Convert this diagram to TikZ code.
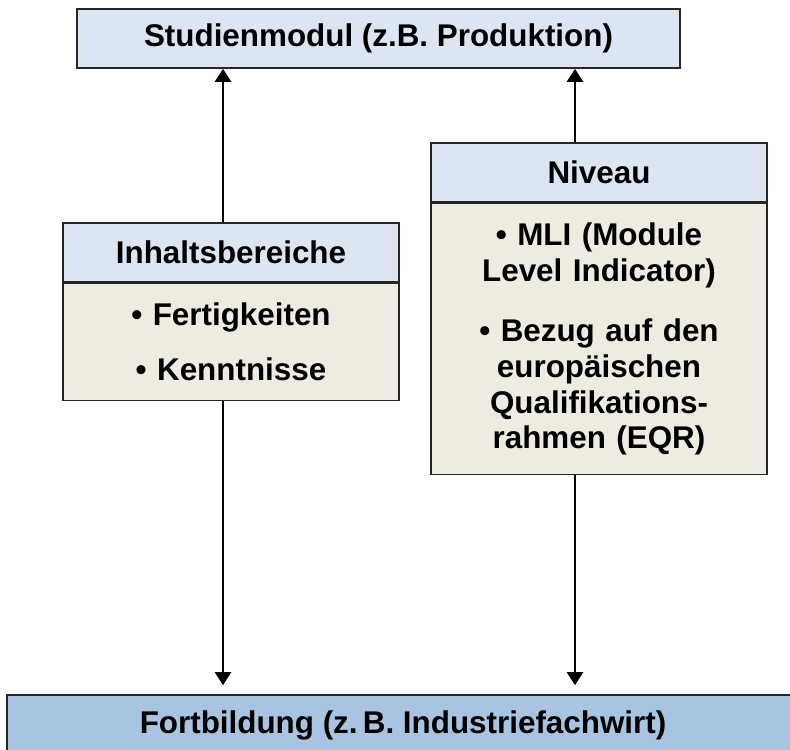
\documentclass[tikz,border=0pt]{standalone}
\usepackage{fontspec}
\setmainfont{Liberation Sans}
\usepackage{tikz}
\usetikzlibrary{positioning,arrows.meta}

\definecolor{kopfblau}{RGB}{220,230,242}
\definecolor{rumpfbeige}{RGB}{238,236,225}
\definecolor{fussblau}{RGB}{168,196,224}

\begin{document}
\begin{tikzpicture}
			[x=1bp,y=-1bp,
			 box/.style={rectangle,draw=black!85,line width=1.6bp,inner sep=0pt,
				font=\fontsize{31.5}{36}\selectfont\bfseries,align=center},
			 kopf/.style={box,fill=kopfblau,minimum width=336bp,minimum height=59bp},
			 rumpf/.style={box,fill=rumpfbeige,minimum width=336bp,text width=330bp},
			 pfeil/.style={line width=2.2bp,-{Triangle[width=16bp,length=13bp]}}]

			\useasboundingbox (0,0) rectangle (790,750);
			\clip (0,0) rectangle (790,750);

			\node[box,fill=kopfblau,minimum width=603bp,minimum height=59bp] (modul) at (378.5,38.5) {Studienmodul (z.B. Produktion)};

			\node[kopf] (inhalt) at (231,252.5) {Inhaltsbereiche};
			\node[rumpf,minimum height=117bp,below=0pt of inhalt] (inhaltliste)
				{\textbullet\ Fertigkeiten\\[19bp]\textbullet\ Kenntnisse};

			\node[kopf] (niveau) at (599,172.5) {Niveau};
			\node[rumpf,minimum height=271bp,below=0pt of niveau] (niveauliste)
				{\textbullet\ MLI (Module\\Level Indicator)\\[24bp]\textbullet\ Bezug auf den\\europäischen\\Qualifikations-\\rahmen (EQR)};

			\node[box,fill=fussblau,minimum width=792bp,minimum height=60bp] (fortbildung) at (403,725) {Fortbildung (z.\,B. Industriefachwirt)};

			\coordinate (links) at (223,0);
			\coordinate (rechts) at (575,0);

			\draw[pfeil] (inhalt.north -| links) -- (modul.south -| links);
			\draw[pfeil] (niveau.north -| rechts) -- (modul.south -| rechts);
			\draw[pfeil,shorten >=9bp] (inhaltliste.south -| links) -- (fortbildung.north -| links);
			\draw[pfeil,shorten >=9bp] (niveauliste.south -| rechts) -- (fortbildung.north -| rechts);

		\end{tikzpicture}
\end{document}
